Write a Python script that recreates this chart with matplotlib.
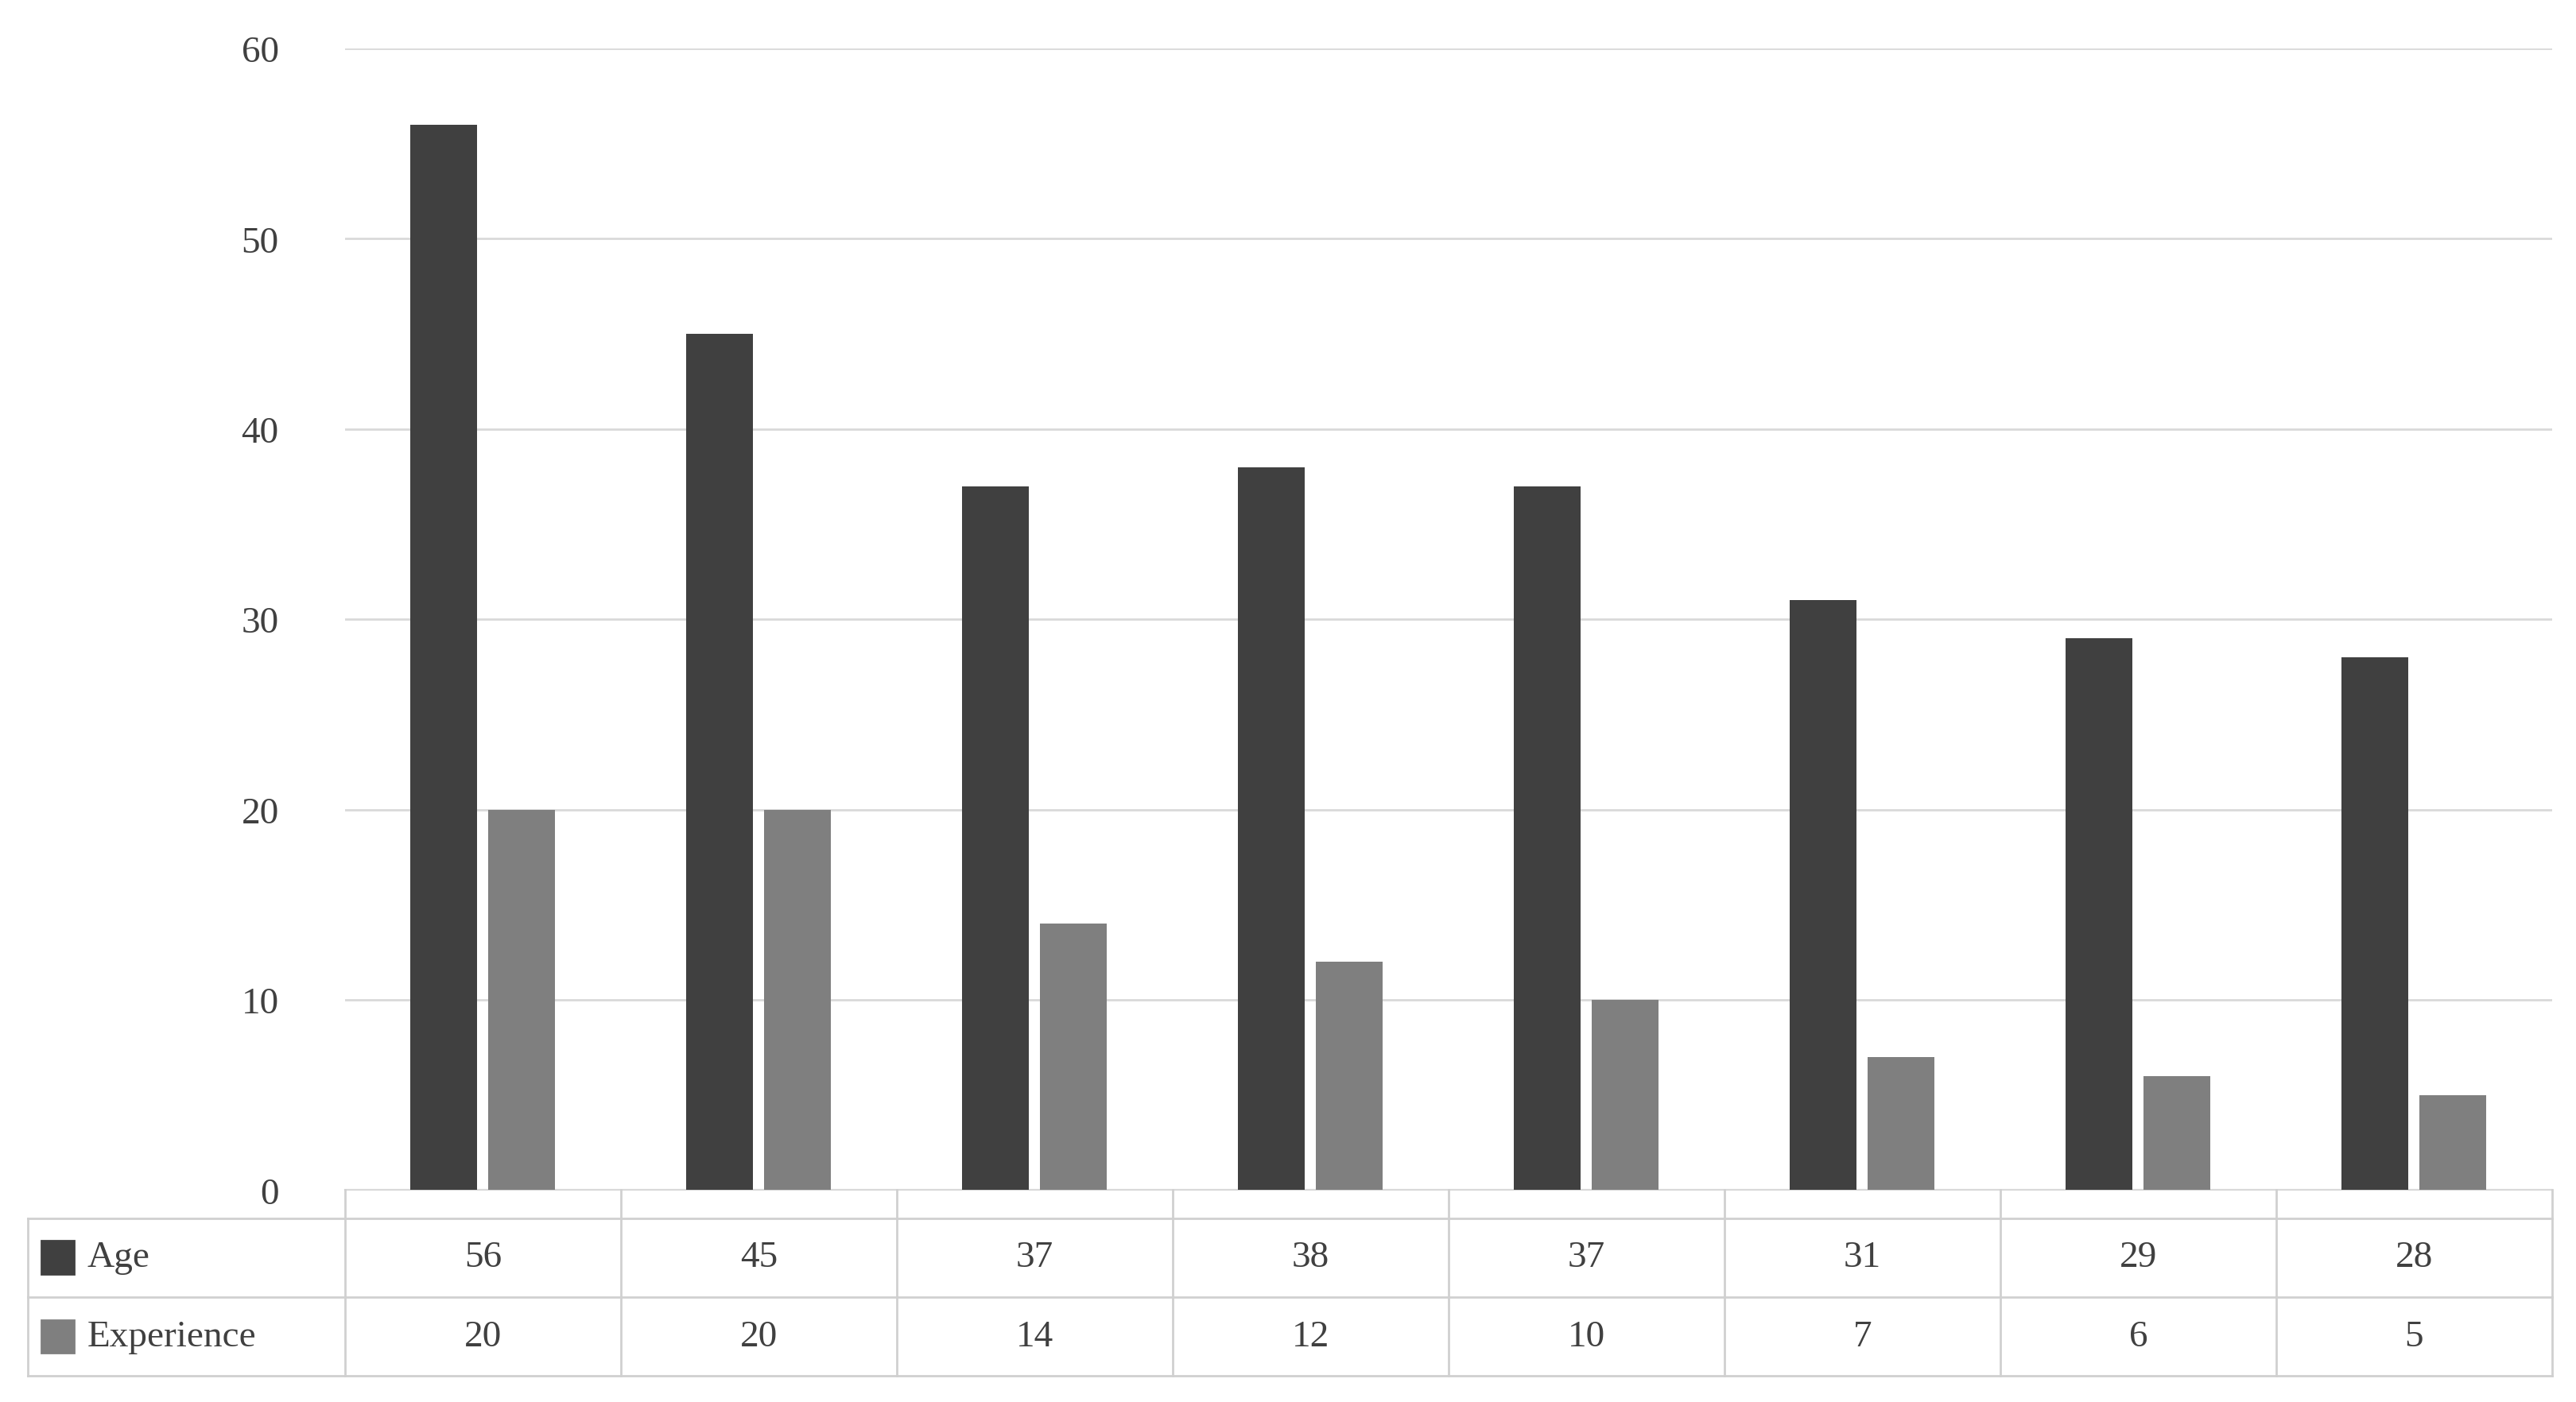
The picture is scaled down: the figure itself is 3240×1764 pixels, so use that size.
import matplotlib
matplotlib.use("Agg")
import matplotlib.pyplot as plt
from matplotlib.lines import Line2D
from matplotlib.patches import Rectangle
import numpy as np

series_names = ["Age", "Experience"]
age = [56, 45, 37, 38, 37, 31, 29, 28]
experience = [20, 20, 14, 12, 10, 7, 6, 5]
yticks = [0, 10, 20, 30, 40, 50, 60]
colors = ["#404040", "#7f7f7f"]

plt.rcParams['font.family'] = ['Liberation Serif', 'DejaVu Serif']
W, H = 1568, 854
fig = plt.figure(figsize=(16.205, 8.825), dpi=200)
fx = lambda x: x / W
fy = lambda y: 1 - y / H
ax = fig.add_axes([fx(210), fy(725), fx(1553) - fx(210), fy(30) - fy(725)])
n = len(age)
x = np.arange(n)
w = 0.24
ax.bar(x - 0.143, age, w, color=colors[0], zorder=3)
ax.bar(x + 0.14, experience, w, color=colors[1], zorder=3)
ax.set_xlim(-0.5, n - 0.5)
ax.set_ylim(0, 60)
ax.set_yticks(yticks)
ax.set_yticklabels([str(t) for t in yticks], fontsize=17, color="#404040")
ax.yaxis.set_tick_params(length=0, pad=30)
ax.set_xticks([])
ax.grid(axis="y", color="#d9d9d9", lw=1, zorder=0)
for s in ["top", "right", "left"]:
    ax.spines[s].set_visible(False)
ax.spines["bottom"].set_color("#d9d9d9")

lc = "#d0d0d0"
def hline(y, x0, x1):
    fig.add_artist(Line2D([fx(x0), fx(x1)], [fy(y), fy(y)], color=lc, lw=1))
def vline(xp, y0, y1):
    fig.add_artist(Line2D([fx(xp), fx(xp)], [fy(y0), fy(y1)], color=lc, lw=1))

colw = (1553 - 210) / n
for y in (742, 790, 838):
    hline(y, 17, 1553)
vline(17, 742, 838)
for i in range(n + 1):
    vline(210 + i * colw, 725, 838)
rows = [age, experience]
for r, (name, vals) in enumerate(zip(series_names, rows)):
    yc = 766 + r * 48
    fig.add_artist(Rectangle((fx(25), fy(yc + 10)), fx(20), fy(yc - 10) - fy(yc + 10),
                             color=colors[r], transform=fig.transFigure))
    fig.text(fx(53), fy(yc), name, fontsize=17, va="center", ha="left", color="#404040")
    for i, v in enumerate(vals):
        fig.text(fx(210 + (i + 0.5) * colw), fy(yc), str(v), fontsize=17,
                 va="center", ha="center", color="#404040")
fig.savefig("out.png", dpi=200, facecolor="white")
